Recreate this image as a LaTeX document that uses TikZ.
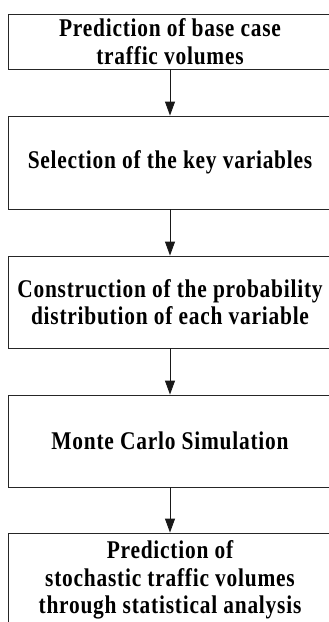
\documentclass[tikz,border=0pt]{standalone}
\usepackage{fontspec}
\setmainfont[FakeStretch=0.84,LetterSpace=3]{Liberation Serif}
\usetikzlibrary{arrows.meta}
\begin{document}
\begin{tikzpicture}[x=1pt,y=1pt,
  stepbox/.style={draw=black!85, line width=0.9pt, minimum width=324pt,
    inner sep=0pt, align=center,
    font=\fontsize{25.5}{27.5}\selectfont\bfseries},
  flow/.style={draw=black!90, line width=0.9pt,
    -{Triangle[length=14pt,width=10pt]}}]
  \useasboundingbox (0,0) rectangle (329,-622);
  \begin{scope}
    \clip (0,0) rectangle (329,-622);
    \node[stepbox, minimum height=55pt] (b1) at (170,-41.5)
      {Prediction of base case\\traffic volumes};
    \node[stepbox, minimum height=93pt] (b2) at (170,-162.5)
      {Selection of the key variables};
    \node[stepbox, minimum height=92pt] (b3) at (170,-302)
      {Construction of the probability\\distribution of each variable};
    \node[stepbox, minimum height=92pt] (b4) at (170,-441)
      {Monte Carlo Simulation};
    \node[stepbox, minimum height=94pt] (b5) at (170,-580)
      {Prediction of\\stochastic traffic volumes\\through statistical analysis};
    \draw[flow] (b1.south) -- (b2.north);
    \draw[flow] (b2.south) -- (b3.north);
    \draw[flow] (b3.south) -- (b4.north);
    \draw[flow] (b4.south) -- (b5.north);
  \end{scope}
\end{tikzpicture}
\end{document}
